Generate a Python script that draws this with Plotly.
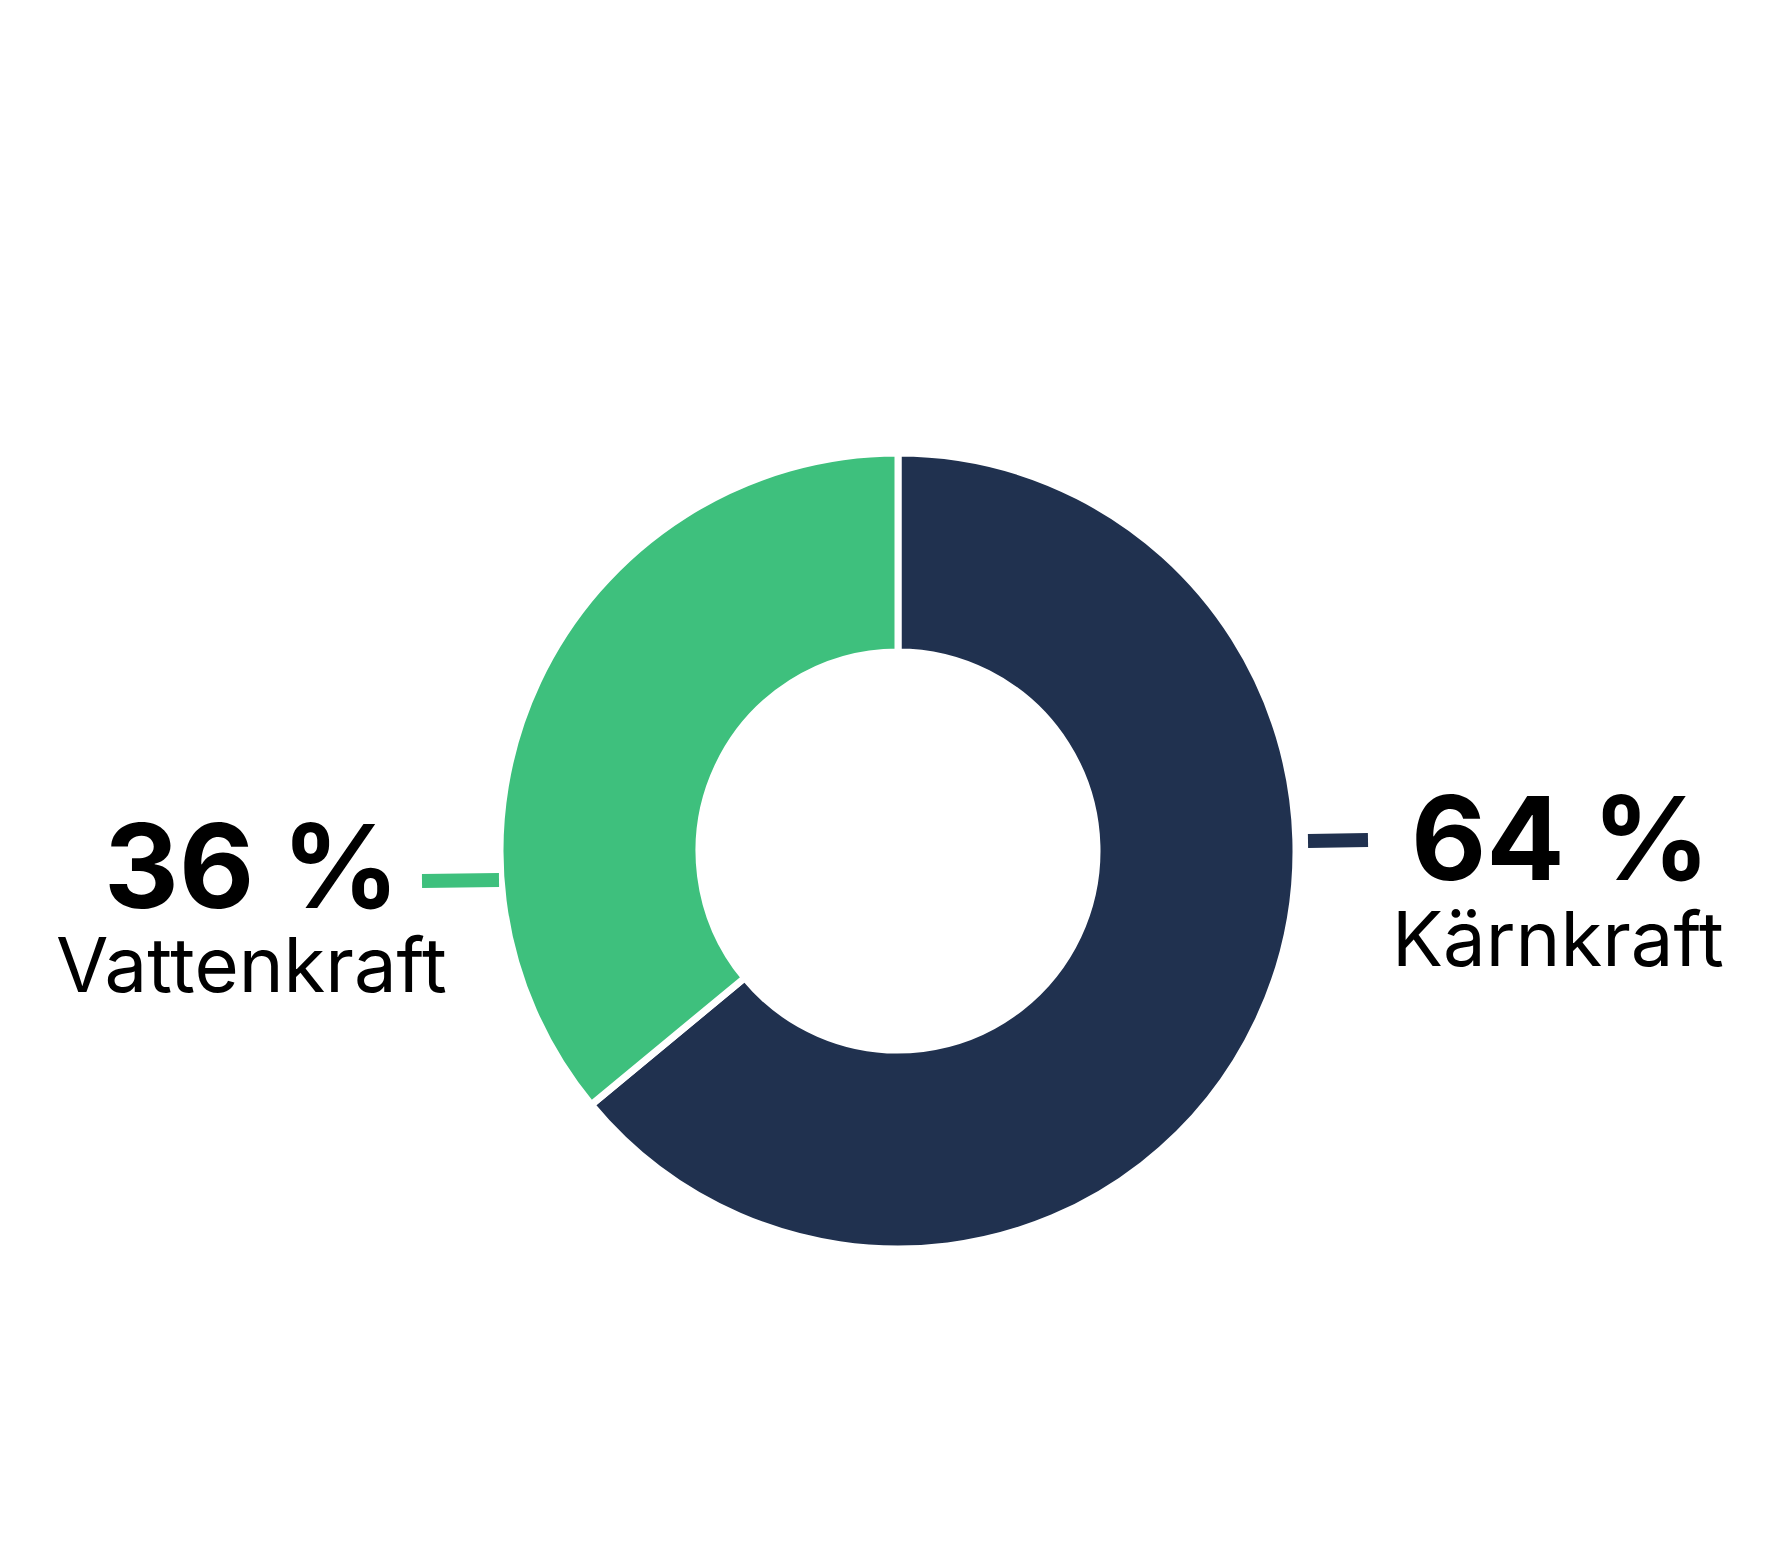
import plotly.graph_objects as go

labels = ["Kärnkraft", "Vattenkraft"]
values = [64, 36]
colors = ["#20314F", "#3EC07D"]
pct_text = ["64 %", "36 %"]

W, H = 1784, 1567
def px(x): return x / W
def py(y): return 1 - y / H

cx, cy, R = 890, 843, 398
fig = go.Figure(go.Pie(
    labels=labels, values=values, hole=0.5, sort=False,
    direction="clockwise", rotation=0,
    marker=dict(colors=colors, line=dict(color="white", width=7)),
    textinfo="none", hoverinfo="label+percent", showlegend=False,
    domain=dict(x=[px(cx-R), px(cx+R)], y=[py(cy+R), py(cy-R)]),
))

# leader dashes
fig.add_shape(type="line", xref="paper", yref="paper",
              x0=px(1300), y0=py(833), x1=px(1360), y1=py(832),
              line=dict(color=colors[0], width=14))
fig.add_shape(type="line", xref="paper", yref="paper",
              x0=px(414), y0=py(873), x1=px(491), y1=py(872),
              line=dict(color=colors[1], width=14))

font_b = "Inter, Noto Sans, sans-serif"
anns = [
    (1552, 830, "<b>" + pct_text[0] + "</b>", 116),
    (1550, 930, labels[0], 76),
    (244, 858, "<b>" + pct_text[1] + "</b>", 116),
    (243, 956, labels[1], 76),
]
for x, y, t, s in anns:
    fig.add_annotation(x=px(x), y=py(y), xref="paper", yref="paper", text=t,
                       showarrow=False, xanchor="center", yanchor="middle",
                       font=dict(family=font_b, size=s, color="black"))

fig.update_layout(width=W, height=H, margin=dict(l=0, r=0, t=0, b=0),
                  paper_bgcolor="white", plot_bgcolor="white")
fig.write_html("out.html")
